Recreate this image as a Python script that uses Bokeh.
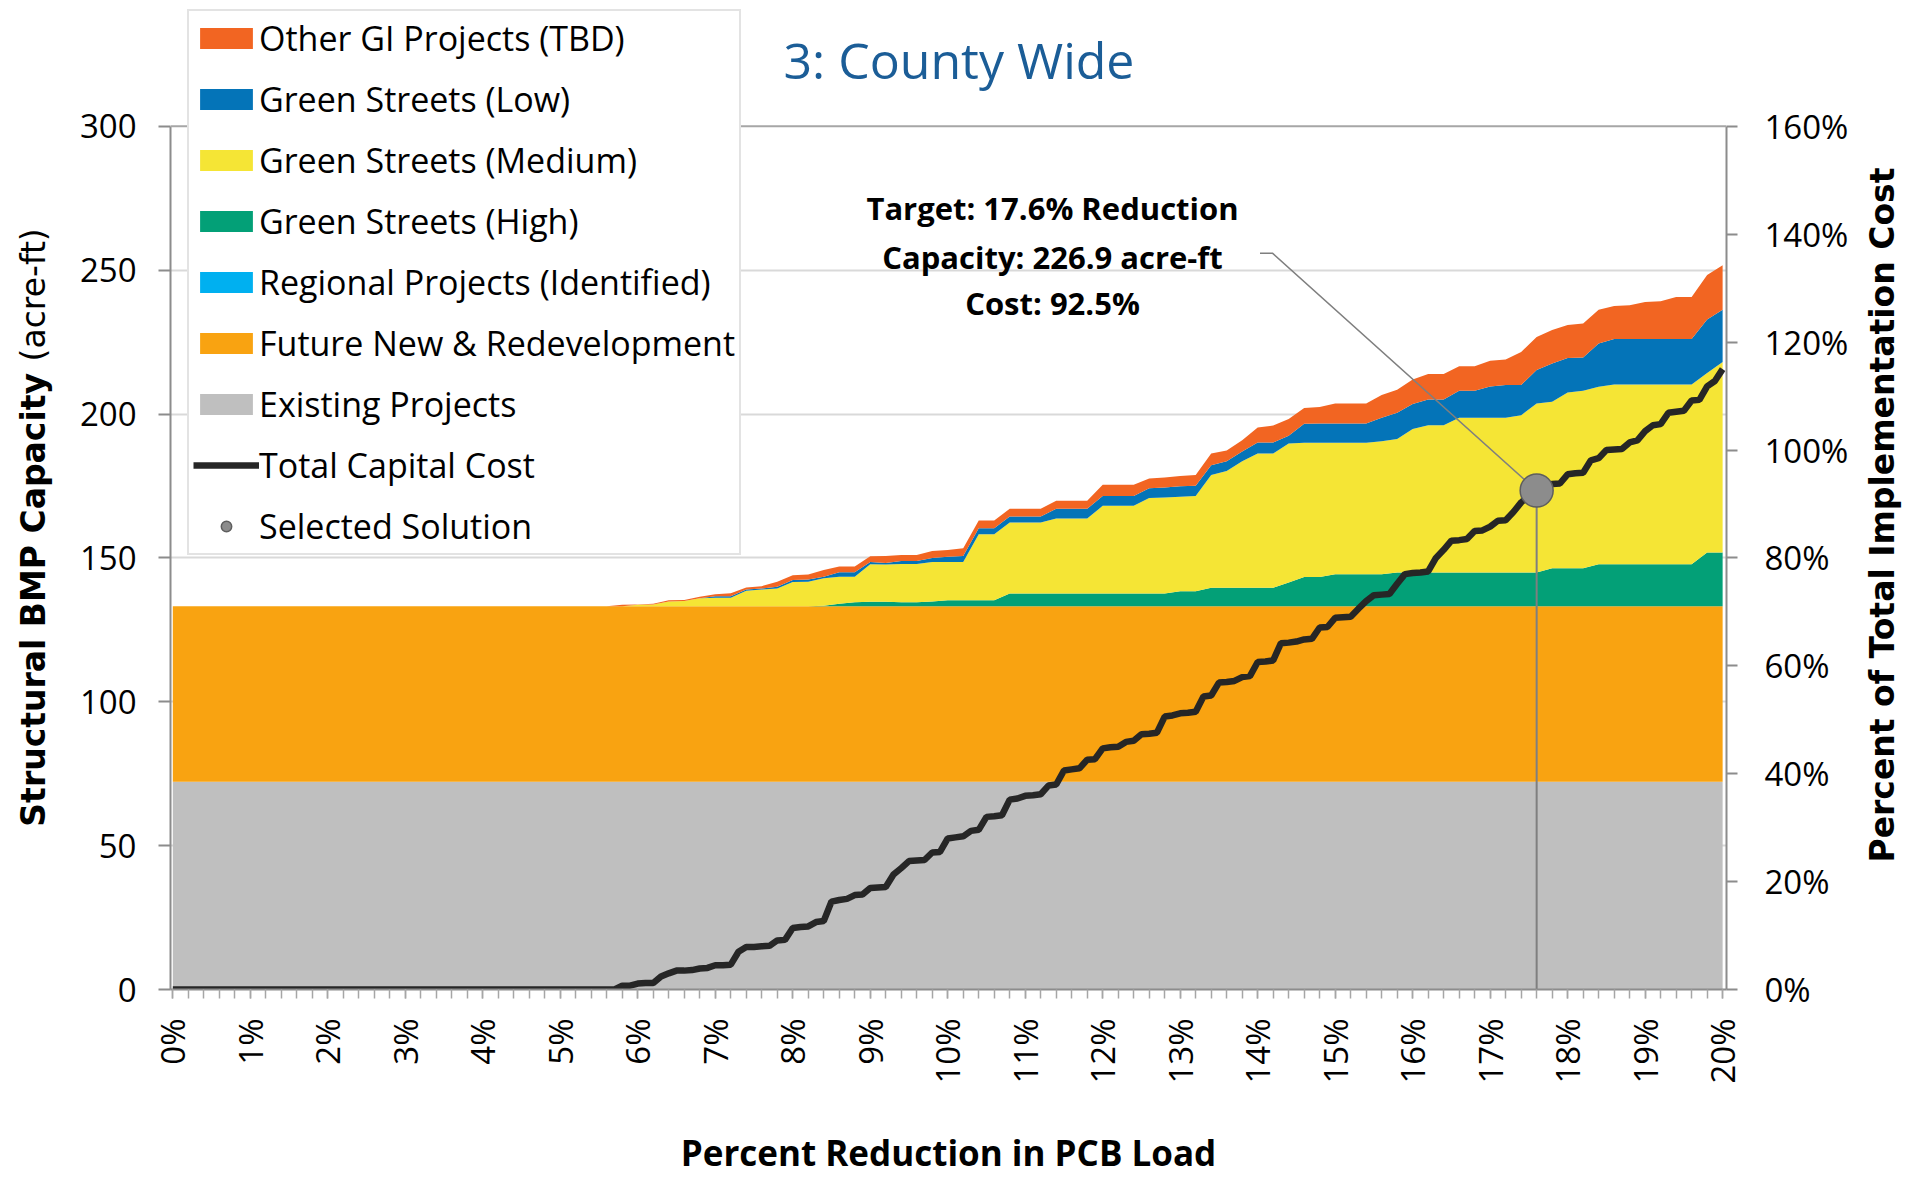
import numpy as np
from bokeh.plotting import figure
from bokeh.layouts import row
from bokeh.models import (ColumnDataSource, Range1d, LinearAxis, FixedTicker,
                          PrintfTickFormatter, Legend, LegendItem, Label, Span)
from bokeh.embed import file_html
from bokeh.resources import INLINE

# ---------------- data ----------------
# category axis: percent reduction in PCB load
pct = [round(i * 0.2, 1) for i in range(101)]        # 0.0 .. 20.0 (areas)
pct_cost = [round(i * 0.1, 1) for i in range(201)]   # 0.0 .. 20.0 (cost line)

existing = [72.2] * 101          # Existing Projects (constant)
future = [61.0] * 101            # Future New & Redevelopment (constant)
regional = [0.0] * 101           # Regional Projects (Identified)

# values from 0.0 .. 5.6 are zero (29 points); rows below start at 5.8
gs_high = [0.0] * 29 + [
    0, 0, 0, 0, 0, 0, 0, 0, 0, 0, 0, 0, 0,                              # 5.8-8.2
    0.2, 0.9, 1.4, 1.6, 1.6, 1.4, 1.4, 1.7, 2.1, 2.1, 2.1, 2.1,         # 8.4-10.6
    4.4, 4.4, 4.4, 4.4, 4.4, 4.4, 4.4, 4.4, 4.4, 4.4, 4.4, 5.2,         # 10.8-13.0
    5.2, 6.4, 6.4, 6.4, 6.4, 6.4, 8.3, 10.2, 10.2, 11.1, 11.1, 11.1,    # 13.2-15.4
    11.1, 11.7, 11.7, 11.7, 11.7, 11.7, 11.7, 11.7, 11.7, 11.7, 11.7, 13.2,  # 15.6-17.8
    13.2, 13.2, 14.6, 14.6, 14.6, 14.6, 14.6, 14.6, 14.6, 18.7, 18.7,   # 18.0-20.0
]
gs_medium = [0.0] * 29 + [
    0, 0.5, 0.6, 1.7, 1.8, 2.8, 3.0, 3.0, 5.4, 5.8, 6.2, 8.4, 8.5,
    9.5, 9.4, 8.9, 13.0, 12.9, 13.3, 13.3, 13.7, 13.3, 13.3, 22.9, 22.9,
    24.7, 24.7, 24.7, 26.1, 26.1, 26.1, 30.5, 30.5, 30.5, 33.2, 33.4, 32.9,
    33.1, 39.2, 40.6, 44.0, 46.7, 46.7, 48.3, 46.6, 46.6, 45.7, 45.7, 45.7,
    46.3, 46.4, 49.9, 51.2, 51.2, 53.8, 53.8, 53.8, 53.8, 54.7, 58.8, 57.9,
    61.1, 61.7, 61.7, 62.5, 62.5, 62.5, 62.5, 62.5, 62.5, 62.4, 66.2,
]
gs_low = [0.0] * 29 + [
    0, 0, 0, 0, 0, 0, 0.5, 0.5, 0.4, 0.4, 0.6, 0.7, 0.8,
    0.6, 1.5, 1.5, 0.8, 0.5, 1.0, 1.0, 1.4, 1.8, 2.1, 2.1, 2.1,
    2.1, 2.1, 2.1, 3.4, 3.4, 3.4, 3.4, 3.4, 3.4, 3.4, 3.5, 3.6,
    3.6, 3.4, 3.4, 3.4, 3.8, 3.8, 2.7, 6.6, 6.7, 6.7, 6.7, 6.7,
    8.1, 9.2, 8.7, 9.0, 9.0, 9.4, 9.4, 10.9, 11.4, 10.5, 11.6, 13.3,
    12.0, 11.6, 15.0, 15.8, 15.8, 15.8, 15.8, 15.8, 15.8, 18.6, 18.2,
]
other_gi = [0.0] * 29 + [
    0.5, 0.1, 0.3, 0.4, 0.4, 0.5, 0.7, 1.0, 0.7, 0.8, 1.7, 1.7, 1.7,
    2.3, 2.0, 2.0, 2.0, 2.5, 2.1, 2.1, 2.4, 2.4, 2.7, 2.7, 2.7,
    2.7, 2.7, 2.7, 2.8, 2.8, 2.8, 3.9, 3.9, 3.9, 3.4, 3.5, 3.6,
    3.7, 4.1, 3.7, 3.9, 5.2, 5.9, 5.8, 5.5, 5.8, 7.0, 7.0, 7.0,
    7.9, 8.0, 8.5, 8.8, 8.8, 8.5, 8.5, 8.9, 8.9, 11.5, 11.5, 11.6,
    11.5, 11.8, 11.8, 11.5, 11.7, 12.9, 13.1, 14.6, 14.6, 15.4, 15.4,
]

# total capital cost, percent of total implementation cost (0.0 .. 5.7 are zero)
cost = [0.0] * 58 + [
    0.7, 0.7, 1.1, 1.2, 1.2, 2.4, 3.0, 3.5, 3.5, 3.6, 3.9, 4.0,          # 5.8-6.9
    4.5, 4.5, 4.6, 7.0, 7.9, 7.9, 8.0, 8.1, 9.1, 9.2,                    # 7.0-7.9
    11.4, 11.6, 11.7, 12.5, 12.7, 16.3, 16.6, 16.8, 17.5, 17.6,          # 8.0-8.9
    18.8, 18.9, 19.0, 21.3, 22.5, 23.8, 23.9, 24.0, 25.4, 25.5,          # 9.0-9.9
    28.0, 28.2, 28.4, 29.4, 29.6, 32.0, 32.1, 32.3, 35.2, 35.4,          # 10.x
    35.9, 36.0, 36.2, 37.8, 38.0, 40.6, 40.8, 41.0, 42.6, 42.7,          # 11.x
    44.7, 44.9, 45.0, 45.9, 46.1, 47.3, 47.4, 47.6, 50.6, 50.8,          # 12.x
    51.2, 51.3, 51.5, 54.3, 54.5, 56.9, 57.0, 57.2, 57.9, 58.1,          # 13.x
    60.7, 60.8, 61.0, 64.2, 64.3, 64.5, 64.9, 65.0, 67.1, 67.2,          # 14.x
    68.9, 69.0, 69.1, 70.6, 72.0, 73.1, 73.2, 73.3, 75.2, 77.0,          # 15.x
    77.2, 77.3, 77.5, 80.0, 81.5, 83.2, 83.3, 83.5, 85.0, 85.1,          # 16.x
    85.8, 86.9, 87.0, 88.5, 90.3, 91.5, 92.5, 93.0, 93.7, 93.8,          # 17.x
    95.5, 95.7, 95.8, 98.1, 98.5, 100.0, 100.1, 100.2, 101.4, 101.8,     # 18.x
    103.5, 104.6, 104.8, 106.9, 107.1, 107.3, 109.2, 109.3, 111.8, 112.8,  # 19.x
    115.0,                                                               # 20.0
]

sel_x = [17.6]        # selected solution: % reduction
sel_cost = [92.5]     # % of total cost
sel_capacity = 226.9  # acre-ft

layer_keys = ["existing", "future", "regional", "gs_high", "gs_medium", "gs_low", "other_gi"]
layer_names = ["Existing Projects", "Future New & Redevelopment", "Regional Projects (Identified)",
               "Green Streets (High)", "Green Streets (Medium)", "Green Streets (Low)",
               "Other GI Projects (TBD)"]
layer_colors = ["#BFBFBF", "#F9A311", "#00B0F0", "#03A077", "#F5E535", "#0474B8", "#F26522"]

x_ticks = list(range(21))
y_ticks = [0, 50, 100, 150, 200, 250, 300]
cost_ticks = [0, 20, 40, 60, 80, 100, 120, 140, 160]
Y_MAX, COST_MAX = 300, 160

# ---------------- layout (reference pixel geometry) ----------------
W, H = 1931, 1178
LW, RW = 60, 69                  # side strips holding the rotated axis titles
FL, FR, FB = 170, 1726, 990      # frame left / right / bottom in page pixels (frame reaches top)
PX_PER_UNIT = 2.88               # pixels per acre-ft
XR = (-0.03, 20.05)
YR = (0, FB / PX_PER_UNIT)       # extends above 300 so the legend/title are not clipped
CR = (0, YR[1] * COST_MAX / Y_MAX)
MAIN_W = W - LW - RW


def px2x(px):
    return XR[0] + (px - FL) / (FR - FL) * (XR[1] - XR[0])


def px2y(py):
    return (FB - py) / PX_PER_UNIT


p = figure(width=MAIN_W, height=H, output_backend="svg", toolbar_location=None,
           x_range=Range1d(*XR), y_range=Range1d(*YR),
           min_border_left=FL - LW, min_border_right=(W - RW) - FR,
           min_border_top=0, min_border_bottom=H - FB)
p.background_fill_color = "white"
p.border_fill_color = "white"
p.outline_line_color = None
p.extra_y_ranges = {"cost": Range1d(*CR)}

src = ColumnDataSource(dict(pct=pct, existing=existing, future=future, regional=regional,
                            gs_high=gs_high, gs_medium=gs_medium, gs_low=gs_low,
                            other_gi=other_gi))
areas = p.varea_stack(layer_keys, x="pct", color=layer_colors, source=src)

# selected-solution guide lines
drop = p.segment(x0=sel_x, y0=[0], x1=sel_x, y1=sel_cost, y_range_name="cost",
                 line_color="#7f7f7f", line_width=2)
leader = p.line([14.03, 14.19, sel_x[0]], [136.5, 136.5, sel_cost[0]], y_range_name="cost",
                line_color="#7f7f7f", line_width=1.5)

cost_r = p.line(pct_cost, cost, y_range_name="cost", line_color="#262626", line_width=6.5)
ball = p.scatter(sel_x, sel_cost, y_range_name="cost", size=33, fill_color="#8c8c8c",
                 line_color="#5e5e5e", line_width=1.5)

# ---------------- axes ----------------
tick_font = "Open Sans"
xa = p.xaxis[0]
xa.ticker = FixedTicker(ticks=x_ticks, minor_ticks=pct)
xa.formatter = PrintfTickFormatter(format="%d%%")
xa.major_label_orientation = np.pi / 2
xa.major_label_text_font = tick_font
xa.major_label_text_font_size = "33px"
xa.major_label_text_color = "black"
xa.major_label_standoff = 20
xa.axis_line_color = "#8c8c8c"
xa.axis_line_width = 2
xa.major_tick_in = 0
xa.major_tick_out = 9
xa.minor_tick_in = 0
xa.minor_tick_out = 9
xa.major_tick_line_color = "#a6a6a6"
xa.minor_tick_line_color = "#a6a6a6"
xa.major_tick_line_width = 1.5
xa.minor_tick_line_width = 1.5
xa.axis_label = "Percent Reduction in PCB Load"
xa.axis_label_text_font = "Open Sans"
xa.axis_label_text_font_style = "bold"
xa.axis_label_text_font_size = "35px"
xa.axis_label_text_color = "black"
xa.axis_label_standoff = 42

ya = p.yaxis[0]
ya.ticker = FixedTicker(ticks=y_ticks, minor_ticks=[])
ya.bounds = (0, Y_MAX)
ya.major_label_text_font = tick_font
ya.major_label_text_font_size = "33px"
ya.major_label_text_color = "black"
ya.major_label_standoff = 22
ya.axis_line_color = "#8c8c8c"
ya.axis_line_width = 2
ya.major_tick_in = 0
ya.major_tick_out = 12
ya.major_tick_line_color = "#8c8c8c"
ya.major_tick_line_width = 2

ya2 = LinearAxis(y_range_name="cost", ticker=FixedTicker(ticks=cost_ticks, minor_ticks=[]),
                 formatter=PrintfTickFormatter(format="%d%%"), bounds=(0, COST_MAX))
ya2.major_label_text_font = tick_font
ya2.major_label_text_font_size = "33px"
ya2.major_label_text_color = "black"
ya2.major_label_standoff = 27
ya2.axis_line_color = "#8c8c8c"
ya2.axis_line_width = 2
ya2.major_tick_in = 0
ya2.major_tick_out = 11
ya2.major_tick_line_color = "#8c8c8c"
ya2.major_tick_line_width = 2
p.add_layout(ya2, "right")

p.xgrid.visible = False
p.ygrid.ticker = FixedTicker(ticks=y_ticks[:-1])
p.ygrid.grid_line_color = "#d9d9d9"
p.ygrid.grid_line_width = 2
p.add_layout(Span(location=Y_MAX, dimension="width", line_color="#a6a6a6", line_width=2))

# ---------------- legend ----------------
order = [6, 5, 4, 3, 2, 1, 0]
items = [LegendItem(label=layer_names[i], renderers=[areas[i]]) for i in order]
items.append(LegendItem(label="Total Capital Cost", renderers=[cost_r]))
items.append(LegendItem(label="Selected Solution", renderers=[ball]))
legend = Legend(items=items, location=(17, FB - 556), orientation="vertical",
                label_text_font="Open Sans", label_text_font_size="34px",
                label_text_color="black",
                glyph_width=66, glyph_height=26, label_height=26, label_standoff=0,
                spacing=15, padding=4, margin=0,
                background_fill_color="white", background_fill_alpha=1.0,
                border_line_color="#c8c8c8", border_line_width=2)
p.add_layout(legend)

# ---------------- texts inside the chart ----------------
p.add_layout(Label(x=px2x(783), y=px2y(60), text="3: County Wide", text_font="Open Sans",
                   text_font_size="50px", text_color="#1B5D97", text_align="left",
                   text_baseline="alphabetic"))

ann_lines = ["Target: 17.6% Reduction", "Capacity: %.1f acre-ft" % sel_capacity,
             "Cost: %.1f%%" % sel_cost[0]]
for txt, by in zip(ann_lines, [208, 257, 303]):
    p.add_layout(Label(x=px2x(1052), y=px2y(by), text=txt, text_font="Open Sans",
                       text_font_style="bold", text_font_size="31px", text_color="black",
                       text_align="center", text_baseline="alphabetic"))


# ---------------- side strips with the rotated axis titles ----------------
# (in a row, the strips' frames are aligned with the main frame: page y 0 .. FB)
def text_strip(width):
    f = figure(width=width, height=H, output_backend="svg", toolbar_location=None,
               x_range=Range1d(0, width), y_range=Range1d(0, FB), min_border=0,
               x_axis_location=None, y_axis_location=None)
    f.outline_line_color = None
    f.grid.visible = False
    f.background_fill_color = "white"
    f.border_fill_color = "white"
    return f


left = text_strip(LW)
left.add_layout(Label(x=33, y=FB - 827, angle=np.pi / 2, text="Structural BMP Capacity",
                      text_font="DejaVu Sans", text_font_style="bold", text_font_size="33px",
                      text_color="black", text_align="left", text_baseline="middle"))
left.add_layout(Label(x=33, y=FB - 228, angle=np.pi / 2, text="(acre-ft)",
                      text_font="DejaVu Sans", text_font_size="33px",
                      text_color="black", text_align="right", text_baseline="middle"))

right = text_strip(RW)
right.add_layout(Label(x=1882 - (W - RW), y=FB - 515, angle=np.pi / 2,
                       text="Percent of Total Implementation Cost",
                       text_font="DejaVu Sans", text_font_style="bold", text_font_size="33px",
                       text_color="black", text_align="center", text_baseline="middle"))

layout = row(left, p, right)
open("out.html", "w").write(file_html(layout, INLINE))
